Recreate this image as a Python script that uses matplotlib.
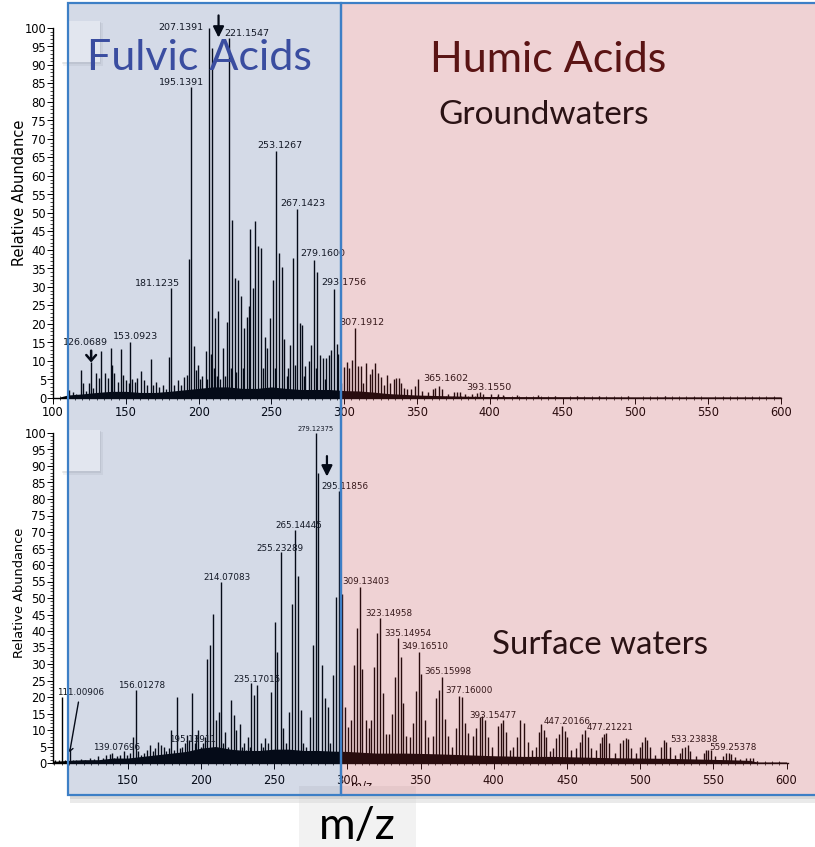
import matplotlib.pyplot as plt
from matplotlib.patches import Rectangle
from matplotlib.ticker import MultipleLocator

W, H = 815, 847

# Espectro de aguas subterráneas (panel superior): m/z e intensidad relativa
gw_mz = [111.3, 113.5, 116.0, 118.9, 120.5, 122.8, 124.6, 126.2, 127.8, 129.6,
         131.9, 133.1, 135.4, 137.7, 139.5, 140.2, 142.2, 144.5, 146.8, 148.4,
         150.3, 152.1, 153.2, 154.5, 156.0, 157.6, 160.1, 162.8, 164.4, 167.3,
         168.8, 170.4, 173.1, 175.4, 177.5, 179.4, 181.2, 183.0, 185.7, 188.0,
         190.3, 191.9, 193.3, 195.1, 196.7, 198.3, 199.6, 201.3, 202.6, 204.8,
         206.0, 207.1, 208.2, 209.3, 210.4, 211.4, 212.3, 213.2, 214.8, 217.0,
         218.2, 219.4, 221.2, 222.2, 223.1, 224.9, 226.0, 227.2, 229.1, 230.2,
         231.2, 232.9, 234.7, 235.4, 237.2, 238.9, 240.9, 243.0, 244.2, 245.3,
         247.1, 249.0, 250.9, 252.2, 253.4, 255.1, 257.0, 258.6, 260.5, 261.5,
         263.0, 264.8, 266.3, 267.5, 269.3, 271.1, 272.4, 273.4, 275.5, 277.3,
         279.1, 280.3, 281.6, 283.3, 285.3, 286.5, 287.6, 289.3, 291.1, 293.3,
         294.9, 295.8, 297.5, 299.7, 301.8, 303.6, 305.2, 307.5, 309.3, 311.4,
         313.2, 315.1, 317.4, 319.2, 321.3, 323.3, 325.4, 327.3, 329.3, 331.6,
         333.9, 335.7, 337.5, 339.1, 340.9, 343.0, 346.0, 348.3, 351.0, 353.6,
         357.4, 360.9, 362.7, 364.9, 367.0, 371.0, 375.5, 377.5, 379.6, 383.0,
         388.0, 391.5, 393.5, 395.5, 401.0, 405.5, 409.0, 419.0, 433.0, 445.0,
         460.0, 475.0, 495.0, 520.0, 540.0, 560.0, 580.0, 595.0]
gw_int = [2.2, 1.5, 1.2, 7.6, 4.0, 2.0, 4.0, 9.8, 2.6, 6.7,
          5.3, 12.7, 6.7, 5.3, 13.6, 9.0, 6.7, 4.4, 13.2, 6.2,
          4.9, 4.0, 15.2, 5.0, 4.4, 5.3, 7.4, 4.9, 3.5, 10.5,
          3.5, 4.4, 3.1, 3.5, 2.5, 11.2, 29.6, 3.5, 4.9, 3.5,
          5.8, 6.2, 37.6, 84.0, 14.0, 7.6, 9.0, 5.0, 6.0, 12.8,
          5.0, 100.0, 12.0, 94.5, 8.0, 21.6, 6.0, 23.5, 5.0, 13.5,
          6.0, 20.6, 97.2, 8.0, 48.2, 32.4, 7.0, 31.9, 27.7, 8.0,
          19.0, 21.8, 24.8, 45.7, 29.7, 47.8, 41.0, 40.6, 8.0, 16.5,
          13.5, 21.5, 31.8, 8.0, 66.8, 39.1, 35.5, 16.0, 6.0, 8.0,
          14.2, 37.8, 9.0, 51.0, 20.2, 19.6, 6.0, 8.6, 9.9, 14.2,
          37.4, 8.0, 34.1, 11.6, 10.8, 5.0, 10.8, 11.5, 13.0, 29.5,
          14.5, 12.0, 4.0, 8.5, 9.8, 8.0, 10.4, 18.8, 8.7, 8.7,
          4.0, 9.5, 6.6, 7.9, 9.5, 6.8, 5.8, 3.5, 6.1, 4.0,
          5.2, 5.4, 5.4, 4.0, 2.7, 2.3, 2.3, 3.2, 5.0, 2.0,
          1.5, 2.3, 2.7, 3.3, 2.5, 1.2, 1.6, 1.6, 1.6, 1.0,
          1.0, 1.4, 1.6, 1.2, 1.0, 1.0, 0.8, 0.7, 0.7, 0.6,
          0.6, 0.5, 0.5, 0.5, 0.4, 0.4, 0.4, 0.4]
# nivel de la base densa de picos pequeños
gw_base_mz = [105, 110, 120, 130, 140, 150, 160, 170, 180, 190, 200, 210, 220,
              230, 240, 250, 260, 270, 280, 290, 300, 310, 320, 330, 340, 350,
              360, 380, 400, 450, 500, 550, 600]
gw_base_int = [0.3, 0.8, 1.1, 1.5, 1.8, 1.8, 1.5, 1.5, 1.8, 2.2, 2.6, 3.0, 3.0,
               2.6, 2.6, 3.0, 2.6, 2.3, 2.3, 2.3, 2.0, 1.9, 1.6, 1.2, 1.0, 0.8,
               0.7, 0.5, 0.4, 0.35, 0.3, 0.3, 0.3]
gw_labels = ["126.0689", "153.0923", "181.1235", "195.1391", "207.1391",
             "221.1547", "253.1267", "267.1423", "279.1600", "293.1756",
             "307.1912", "365.1602", "393.1550"]

# Espectro de aguas superficiales (panel inferior)
sw_mz = [100.5, 103.0, 105.4, 107.5, 110.4, 112.5, 115.0, 118.0, 121.0, 124.0,
         127.0, 130.0, 133.0, 135.5, 137.7, 139.1, 141.0, 143.0, 145.0, 147.5,
         149.5, 151.5, 153.6, 155.5, 157.0, 159.0, 161.0, 163.0, 165.0, 167.0,
         168.5, 170.7, 172.5, 174.5, 176.5, 178.0, 179.8, 181.5, 184.0, 185.5,
         187.0, 188.9, 190.5, 191.9, 194.2, 195.8, 196.9, 198.0, 200.0, 201.5,
         203.0, 204.4, 206.2, 208.3, 210.3, 212.4, 213.5, 215.0, 216.3, 218.5,
         220.4, 222.4, 224.2, 226.5, 228.0, 229.2, 230.5, 232.2, 233.5, 234.5,
         236.3, 238.6, 240.9, 242.5, 244.1, 246.0, 248.2, 250.4, 252.3, 254.5,
         256.1, 258.0, 260.2, 262.5, 264.5, 266.3, 268.2, 270.0, 272.0, 274.3,
         276.6, 278.4, 280.3, 282.5, 284.6, 286.8, 288.5, 290.2, 292.6, 294.3,
         296.5, 298.7, 300.5, 302.3, 304.4, 306.4, 308.5, 310.3, 312.6, 314.6,
         316.5, 318.5, 320.3, 322.1, 324.2, 326.2, 328.3, 330.5, 332.6, 334.4,
         336.5, 338.3, 340.4, 342.6, 344.9, 346.7, 348.8, 350.6, 352.9, 355.1,
         358.5, 360.9, 362.6, 364.5, 366.5, 368.8, 371.5, 374.5, 376.3, 378.6,
         380.7, 382.4, 385.9, 388.2, 390.4, 392.0, 393.9, 396.1, 399.0, 402.9,
         404.8, 406.4, 408.7, 411.0, 413.2, 415.9, 418.2, 420.5, 423.4, 426.0,
         428.7, 431.0, 432.6, 434.4, 436.0, 438.5, 440.5, 442.8, 444.6, 446.7,
         448.5, 450.3, 453.1, 456.5, 458.7, 460.6, 462.6, 464.4, 466.7, 470.1,
         472.4, 474.0, 475.3, 476.9, 478.8, 482.7, 486.5, 488.3, 490.2, 492.0,
         494.0, 497.0, 499.7, 501.6, 503.1, 504.7, 506.6, 510.0, 514.5, 516.3,
         518.0, 520.2, 523.5, 527.1, 528.9, 530.7, 532.5, 534.3, 538.0, 543.4,
         544.8, 546.4, 548.2, 551.0, 556.6, 558.9, 560.7, 562.3, 565.0, 568.0,
         572.6, 574.9, 577.1, 580.0, 585.0, 590.0, 595.0]
sw_int = [1.0, 1.0, 20.0, 1.0, 4.0, 0.8, 1.0, 1.3, 1.0, 1.5,
          1.2, 2.0, 1.5, 2.5, 2.8, 3.0, 1.5, 2.0, 2.5, 3.5,
          2.5, 3.0, 8.0, 22.1, 3.5, 2.5, 3.0, 4.0, 5.5, 3.5,
          4.5, 6.5, 5.5, 5.0, 3.5, 4.5, 10.0, 4.0, 20.1, 4.5,
          5.0, 6.0, 8.5, 7.0, 21.1, 6.0, 8.5, 10.0, 5.0, 6.0,
          8.0, 31.4, 35.8, 45.2, 13.0, 15.6, 55.0, 6.0, 9.5, 5.0,
          19.1, 14.5, 10.0, 11.8, 5.0, 6.0, 4.0, 8.0, 5.0, 24.1,
          20.6, 23.6, 6.0, 5.0, 7.6, 6.0, 21.6, 42.8, 33.7, 63.8,
          10.7, 6.0, 15.6, 48.2, 70.6, 56.7, 16.0, 6.0, 5.0, 14.0,
          35.8, 100.0, 88.0, 29.7, 19.6, 17.0, 6.0, 26.7, 50.4, 82.4,
          51.3, 17.0, 11.0, 13.0, 29.7, 41.0, 53.4, 28.4, 13.0, 10.5,
          13.0, 29.2, 39.3, 43.8, 21.1, 8.7, 8.7, 15.0, 26.2, 37.8,
          32.0, 18.1, 8.2, 7.8, 12.0, 21.9, 33.7, 26.9, 13.0, 7.8,
          8.2, 19.6, 22.1, 26.2, 13.2, 8.2, 5.0, 10.5, 20.3, 20.0,
          12.0, 9.0, 8.2, 10.5, 14.0, 14.1, 13.0, 7.8, 5.0, 11.2,
          12.0, 13.0, 9.3, 4.0, 4.9, 8.0, 13.0, 12.0, 6.5, 4.0,
          4.9, 9.5, 11.8, 10.0, 8.0, 3.5, 4.5, 7.5, 8.9, 11.2,
          9.7, 7.8, 4.0, 4.5, 6.5, 8.9, 10.0, 8.0, 4.5, 4.0,
          6.0, 8.0, 8.9, 9.2, 6.0, 3.0, 6.0, 7.0, 7.5, 7.2,
          4.5, 3.0, 5.0, 6.5, 8.0, 6.9, 5.0, 2.5, 4.9, 6.9,
          6.4, 4.9, 2.5, 3.0, 4.5, 4.9, 5.4, 3.5, 2.0, 3.0,
          4.0, 4.0, 3.8, 2.0, 2.0, 3.0, 2.9, 2.6, 1.8, 1.2,
          1.4, 1.6, 1.4, 0.6, 0.4, 0.4, 0.4]
sw_base_mz = [99, 110, 120, 130, 140, 150, 160, 170, 180, 190, 200, 210, 220,
              230, 240, 250, 260, 270, 280, 290, 300, 320, 340, 360, 380, 400,
              420, 440, 460, 480, 500, 520, 540, 560, 575, 580, 600]
sw_base_int = [0.5, 0.8, 1.0, 1.0, 1.5, 1.5, 2.0, 2.5, 3.0, 3.5, 4.5, 5.0, 4.2,
               3.8, 3.8, 4.2, 4.2, 3.8, 3.8, 3.6, 3.5, 3.0, 3.0, 2.8, 2.5, 2.2,
               2.0, 2.0, 1.8, 1.6, 1.5, 1.4, 1.2, 1.0, 0.8, 0.3, 0.3]
sw_labels = ["139.07696", "156.01278", "195.13911", "214.07083", "235.17015",
             "255.23289", "265.14445", "279.12375", "295.11856", "309.13403",
             "323.14958", "335.14954", "349.16510", "365.15998", "377.16000",
             "393.15477", "447.20166", "477.21221", "533.23838", "559.25378"]

x_ticks_top = list(range(100, 601, 50))
x_ticks_bottom = list(range(150, 601, 50))
y_ticks = list(range(0, 101, 5))

# desplazamiento (px) de cada etiqueta respecto a la punta de su pico
gw_offset = {"126.0689": (-6, 19), "153.0923": (5, 5), "181.1235": (-14, 5),
             "195.1391": (-10, 5), "207.1391": (-28, 0), "221.1547": (17, 5),
             "253.1267": (4, 5), "267.1423": (6, 6), "279.1600": (9, 6),
             "293.1756": (9, 6), "307.1912": (7, 6), "365.1602": (7, 7),
             "393.1550": (9, 5)}
sw_offset = {"139.07696": (5, 6), "156.01278": (6, 5), "195.13911": (-2, 4),
             "214.07083": (6, 4), "235.17015": (6, 4), "255.23289": (-1, 4),
             "265.14445": (4, 5), "279.12375": (0, 4), "295.11856": (6, 5),
             "309.13403": (6, 5), "323.14958": (9, 5), "335.14954": (10, 5),
             "349.16510": (6, 5), "365.15998": (6, 5), "377.16000": (10, 6),
             "393.15477": (8, 5), "447.20166": (5, 5), "477.21221": (4, 5),
             "533.23838": (6, 6), "559.25378": (7, 6)}

plt.rcParams['font.family'] = ['DejaVu Sans']
TITULO = ['Lato', 'DejaVu Sans']


def caja(x0, y0, x1, y1):
    # rectángulo en píxeles (origen arriba a la izquierda) -> fracción de figura
    return (x0 / W, 1 - y1 / H), (x1 - x0) / W, (y1 - y0) / H


def espectro(ax, mz, inten, base_mz, base_int, xlim, xticks):
    ax.fill_between(base_mz, 0, base_int, color='black', lw=0)
    ax.vlines(mz, 0, inten, color='black', lw=1.0)
    ax.set_xlim(*xlim)
    ax.set_ylim(0, 100)
    ax.set_xticks(xticks)
    ax.set_yticks(y_ticks)
    ax.xaxis.set_minor_locator(MultipleLocator(5))
    ax.yaxis.set_minor_locator(MultipleLocator(1))
    ax.tick_params(axis='both', which='major', labelsize=8.3, length=4, width=0.7)
    ax.tick_params(axis='both', which='minor', length=2.5, width=0.5)
    ax.tick_params(axis='x', which='minor', direction='inout', length=3)
    ax.tick_params(axis='y', pad=1)
    for s in ['top', 'right']:
        ax.spines[s].set_visible(False)
    for s in ['left', 'bottom']:
        ax.spines[s].set_linewidth(1.0)


def etiquetar(ax, mz, inten, etiquetas, desplaz, size, tamanos={}):
    for et in etiquetas:
        i = min(range(len(mz)), key=lambda k: abs(mz[k] - float(et)))
        dx, dy = desplaz[et]
        ax.annotate(et, (mz[i], inten[i]), xytext=(dx, dy), textcoords='offset pixels',
                    ha='center', va='center', fontsize=tamanos.get(et, size),
                    color='#111111', annotation_clip=False)


fig = plt.figure(figsize=(W / 100, H / 100), dpi=100)
fig.patch.set_facecolor('white')

ax1 = fig.add_axes([53 / W, 1 - 398 / H, (781 - 53) / W, 370 / H])
ax2 = fig.add_axes([53 / W, 1 - 763 / H, (788 - 53) / W, 330 / H])

espectro(ax1, gw_mz, gw_int, gw_base_mz, gw_base_int, (100, 600), x_ticks_top)
espectro(ax2, sw_mz, sw_int, sw_base_mz, sw_base_int, (99, 601), x_ticks_bottom)
ax1.tick_params(axis='x', pad=2)
ax2.tick_params(axis='x', pad=4)

etiquetar(ax1, gw_mz, gw_int, gw_labels, gw_offset, 6.8)
etiquetar(ax2, sw_mz, sw_int, sw_labels, sw_offset, 6.3, {"279.12375": 4.9})

# flechas que señalan picos
ax1.annotate('', xy=(213.7, 97.4), xytext=(213.7, 103.4), annotation_clip=False,
             arrowprops=dict(arrowstyle='-|>', color='black', lw=1.6, mutation_scale=16,
                             shrinkA=0, shrinkB=0))
ax1.annotate('', xy=(126.2, 9.6), xytext=(126.2, 12.8), annotation_clip=False,
             arrowprops=dict(arrowstyle='->, head_length=0.4, head_width=0.35',
                             color='black', lw=1.8, shrinkA=0, shrinkB=0))
ax2.annotate('', xy=(286.1, 86.8), xytext=(286.1, 93.0), annotation_clip=False,
             arrowprops=dict(arrowstyle='-|>', color='black', lw=1.6, mutation_scale=16,
                             shrinkA=0, shrinkB=0))
ax2.annotate('111.00906', xy=(110.4, 3.3), xytext=(117.6, 21.5), ha='center', va='center',
             fontsize=6.3, color='#111111', annotation_clip=False,
             arrowprops=dict(arrowstyle='->, head_length=0.35, head_width=0.3',
                             color='black', lw=1.0, shrinkA=2, shrinkB=0))

fig.text(20 / W, 1 - 193 / H, 'Relative Abundance', rotation=90, ha='center',
         va='center', fontsize=10.5)
fig.text(20 / W, 1 - 593 / H, 'Relative Abundance', rotation=90, ha='center',
         va='center', fontsize=9.4)
fig.text(362 / W, 1 - 779 / H, 'm/z', ha='center', va='top', fontsize=8.3, zorder=0.2)

# cuadritos blancos con sombra (esquinas de las imágenes originales)
for y0 in (21, 430):
    fig.add_artist(Rectangle(*caja(63, y0 + 2, 103, y0 + 45), transform=fig.transFigure,
                             facecolor='#a0a0a0', alpha=0.12, lw=0, zorder=0.4))
    fig.add_artist(Rectangle(*caja(62, y0 + 1, 101, y0 + 43), transform=fig.transFigure,
                             facecolor='#a0a0a0', alpha=0.18, lw=0, zorder=0.4))
    fig.add_artist(Rectangle(*caja(61, y0, 100, y0 + 41), transform=fig.transFigure,
                             facecolor='white', lw=0, zorder=0.45))
    fig.add_artist(Rectangle(*caja(68, y0, 100, y0 + 41), transform=fig.transFigure,
                             facecolor='white', alpha=0.35, lw=0, zorder=1.5))

# recuadro gris de la etiqueta m/z
fig.add_artist(Rectangle(*caja(299, 786, 416, 847), transform=fig.transFigure,
                         facecolor='#f2f2f2', lw=0, zorder=0.5))

# sombras de los recuadros
fig.add_artist(Rectangle(*caja(70, 795, 815, 799), transform=fig.transFigure,
                         facecolor='#bdbdbd', alpha=0.6, lw=0, zorder=0.6))
fig.add_artist(Rectangle(*caja(70, 799, 815, 803), transform=fig.transFigure,
                         facecolor='#dcdcdc', alpha=0.6, lw=0, zorder=0.6))

# zonas semitransparentes: ácidos fúlvicos y húmicos
fig.add_artist(Rectangle(*caja(68, 3, 341, 795), transform=fig.transFigure,
                         facecolor=(30 / 255, 60 / 255, 130 / 255), alpha=0.19, lw=0, zorder=1))
fig.add_artist(Rectangle(*caja(341, 3, 830, 795), transform=fig.transFigure,
                         facecolor=(187 / 255, 54 / 255, 63 / 255), alpha=0.224, lw=0, zorder=1))
for x0, x1 in ((68, 341), (341, 830)):
    fig.add_artist(Rectangle(*caja(x0, 3, x1, 795), transform=fig.transFigure,
                             fill=False, edgecolor='#3d7fc6', lw=1.6, zorder=2))

fig.text(199 / W, 1 - 70 / H, 'Fulvic Acids', ha='center', va='baseline',
         fontsize=31, color='#3a4da0', family=TITULO, zorder=5)
fig.text(548 / W, 1 - 72 / H, 'Humic Acids', ha='center', va='baseline',
         fontsize=31, color='#5a1414', family=TITULO, zorder=5)
fig.text(544 / W, 1 - 124 / H, 'Groundwaters', ha='center', va='baseline',
         fontsize=24, color='#2a1214', family=TITULO, zorder=5)
fig.text(600 / W, 1 - 654 / H, 'Surface waters', ha='center', va='baseline',
         fontsize=23.8, color='#2a1214', family=TITULO, zorder=5)
fig.text(357 / W, 1 - 839 / H, 'm/z', ha='center', va='baseline',
         fontsize=32, color='black', family=TITULO, zorder=5)

plt.savefig('out.png', dpi=100)
